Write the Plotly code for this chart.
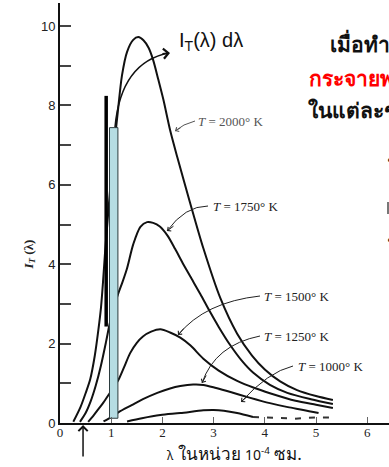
import plotly.graph_objects as go

# Spectral radiance curves I_T(lambda) for five temperatures (lambda in 1e-4 cm)
lam_2000 = [0.26, 0.40, 0.50, 0.59, 0.68, 0.75, 0.80, 0.84, 0.88, 0.93, 0.98, 1.03, 1.08,
            1.13, 1.21, 1.31, 1.43, 1.53, 1.63, 1.73, 1.82, 1.92, 2.02, 2.15, 2.29, 2.54,
            2.80, 3.13, 3.46, 3.75, 4.00, 4.30, 4.63, 5.00, 5.33]
I_2000 = [0.03, 0.40, 0.75, 1.10, 1.70, 2.35, 2.90, 3.55, 4.30, 5.10, 5.90, 6.60, 7.25,
          7.85, 8.75, 9.35, 9.65, 9.72, 9.64, 9.45, 9.14, 8.65, 8.14, 7.38, 6.70, 5.55,
          4.40, 3.15, 2.25, 1.70, 1.35, 1.05, 0.83, 0.68, 0.58]

lam_1750 = [0.39, 0.50, 0.60, 0.70, 0.80, 0.90, 0.97, 1.05, 1.14, 1.22, 1.31, 1.43, 1.57,
            1.70, 1.82, 1.95, 2.10, 2.25, 2.40, 2.54, 2.74, 2.93, 3.10, 3.32, 3.55, 3.77,
            4.10, 4.44, 4.90, 5.33]
I_1750 = [0.03, 0.25, 0.55, 0.95, 1.45, 2.05, 2.50, 2.90, 3.27, 3.55, 3.90, 4.50, 4.94,
          5.06, 5.04, 4.95, 4.72, 4.38, 4.02, 3.70, 3.25, 2.80, 2.42, 1.97, 1.57, 1.27,
          0.96, 0.76, 0.60, 0.48]

lam_1500 = [0.55, 0.65, 0.75, 0.85, 0.97, 1.05, 1.14, 1.25, 1.37, 1.50, 1.62, 1.78, 1.96,
            2.15, 2.35, 2.55, 2.80, 3.10, 3.46, 3.80, 4.10, 4.60, 5.00, 5.33]
I_1500 = [0.03, 0.18, 0.35, 0.52, 0.75, 0.90, 1.08, 1.40, 1.76, 2.02, 2.18, 2.30, 2.36,
          2.28, 2.15, 1.95, 1.62, 1.32, 1.06, 0.88, 0.75, 0.56, 0.46, 0.38]

lam_1250 = [0.85, 1.00, 1.14, 1.40, 1.62, 1.90, 2.15, 2.35, 2.60, 2.80, 3.05, 3.33, 3.70,
            4.10, 4.45, 4.75, 5.05]
I_1250 = [0.04, 0.15, 0.27, 0.45, 0.60, 0.76, 0.87, 0.93, 0.97, 0.96, 0.88, 0.78, 0.64,
          0.50, 0.40, 0.33, 0.25]

lam_1000 = [1.31, 1.60, 1.96, 2.35, 2.80, 3.00, 3.20, 3.46, 3.77]
I_1000 = [0.04, 0.12, 0.20, 0.25, 0.32, 0.33, 0.31, 0.25, 0.15]
# faint broken tail of the 1000 K curve
lam_1000_tail = [3.77, 4.20, 4.60, 5.00, 5.40]
I_1000_tail = [0.15, 0.12, 0.11, 0.14, 0.14]

temps = ["2000", "1750", "1500", "1250", "1000"]

# strip of width d(lambda) under the 2000 K curve, and the marker bar beside it
strip_lambda = [0.967, 1.131]
strip_height = 7.44
strip_base = 0.12
marker_lambda = 0.902
marker_span = [2.43, 8.24]

# pointer below the axis
pointer_lambda = 0.45

y_ticks = [0, 1, 2, 3, 4, 5, 6, 7, 8, 9, 10]
y_ticktext = ["0", "", "2", "", "4", "", "6", "", "8", "", "10"]
x_ticks = [0, 1, 2, 3, 4, 5, 6]

W, H = 389, 467
L, R, T, B = 60, 0, 3, 44
X_RANGE = [0, (W - L - R) / 51.2]
Y_RANGE = [0, (H - T - B) / 39.7]


def d(xp, yp):
    """pixel position -> data coordinates"""
    x = X_RANGE[0] + (xp - L) / (W - L - R) * (X_RANGE[1] - X_RANGE[0])
    y = Y_RANGE[0] + (H - B - yp) / (H - T - B) * (Y_RANGE[1] - Y_RANGE[0])
    return x, y


def p(xp, yp):
    """pixel position -> paper coordinates"""
    return (xp - L) / (W - L - R), (H - B - yp) / (H - T - B)


fig = go.Figure()

curve_line = dict(color="#111111", width=2, shape="spline", smoothing=0.8)
for lam, val in [(lam_2000, I_2000), (lam_1750, I_1750), (lam_1500, I_1500),
                 (lam_1250, I_1250), (lam_1000, I_1000)]:
    fig.add_trace(go.Scatter(x=lam, y=val, mode="lines", line=curve_line,
                             hoverinfo="skip", showlegend=False))
fig.add_trace(go.Scatter(x=lam_1000_tail, y=I_1000_tail, mode="lines",
                         line=dict(color="#333333", width=2, dash="6px,8px"),
                         hoverinfo="skip", showlegend=False))

# marker bar
fig.add_trace(go.Scatter(x=[marker_lambda, marker_lambda], y=marker_span, mode="lines",
                         line=dict(color="#000000", width=3.5),
                         hoverinfo="skip", showlegend=False))
# shaded strip I_T(lambda) d(lambda)
sx = [strip_lambda[0], strip_lambda[0], strip_lambda[1], strip_lambda[1], strip_lambda[0]]
sy = [strip_base, strip_height, strip_height, strip_base, strip_base]
fig.add_trace(go.Scatter(x=sx, y=sy, mode="lines", fill="toself",
                         fillcolor="#b6dde3", line=dict(color="#2b3b3e", width=1),
                         hoverinfo="skip", showlegend=False))

shapes = []
annotations = []


def qpath(p0, c, p1):
    a, b, e = d(*p0), d(*c), d(*p1)
    return f"M{a[0]},{a[1]} Q{b[0]},{b[1]} {e[0]},{e[1]}"


# curved arrow from the strip to its label
shapes.append(dict(type="path", xref="x", yref="y",
                   path=qpath((115, 127), (121, 62), (169, 53)),
                   line=dict(color="#111111", width=1.5)))
ax_, ay_ = d(170, 53)
annotations.append(dict(x=ax_, y=ay_, xref="x", yref="y", ax=-9, ay=1, text="",
                        showarrow=True, arrowhead=4, arrowsize=1.3, arrowwidth=1.5,
                        arrowcolor="#111111"))
lx, ly = d(177, 41)
annotations.append(dict(x=lx, y=ly, xref="x", yref="y", xanchor="left", yanchor="middle",
                        text="I<sub>T</sub>(λ) dλ", showarrow=False,
                        font=dict(family="Liberation Sans, Arial", size=20, color="#111111")))

# temperature labels with curved leaders
label_specs = [
    # text anchor, leader start, control, tip, arrow offset
    ((196, 121), (195, 121), (183, 124), (175, 131), (7, -4)),
    ((211, 206), (208, 206), (185, 206), (167, 231), (8, -6)),
    ((262, 296), (260, 296), (205, 302), (178, 335), (7, -8)),
    ((262, 336), (260, 336), (215, 345), (202, 383), (5, -9)),
    ((296, 366), (293, 366), (268, 372), (241, 402), (8, -7)),
]
label_colors = ["#555555", "#222222", "#222222", "#222222", "#222222"]
for t, (anc, p0, c, tip, off), col in zip(temps, label_specs, label_colors):
    shapes.append(dict(type="path", xref="x", yref="y", path=qpath(p0, c, tip),
                       line=dict(color=col, width=1)))
    tx, ty = d(*tip)
    annotations.append(dict(x=tx, y=ty, xref="x", yref="y", ax=off[0], ay=off[1], text="",
                            showarrow=True, arrowhead=4, arrowsize=1.0, arrowwidth=1,
                            arrowcolor=col))
    x0, y0 = d(*anc)
    annotations.append(dict(x=x0, y=y0, xref="x", yref="y", xanchor="left", yanchor="middle",
                            text=f"<i>T</i> = {t}° K", showarrow=False,
                            font=dict(family="Liberation Serif, Times New Roman", size=13,
                                      color=col)))

# pointer under the axis
annotations.append(dict(x=pointer_lambda, y=0, xref="x", yref="y", ax=0, ay=35, text="",
                        showarrow=True, arrowhead=4, arrowsize=1.2, arrowwidth=1.5,
                        arrowcolor="#111111", standoff=2))

# axis titles (paper coordinates so they may sit outside the plot area)
yt = p(18, 255)
annotations.append(dict(x=yt[0], y=yt[1], xref="paper", yref="paper",
                        text="<b><i>I<sub>T</sub></i> (λ)</b>", textangle=-90, showarrow=False,
                        font=dict(family="Liberation Serif, Times New Roman", size=13,
                                  color="#222222")))
xt = p(166, 466)
annotations.append(dict(x=xt[0], y=xt[1], xref="paper", yref="paper",
                        xanchor="left", yanchor="bottom", borderpad=0,
                        text="<span style='font-size:12px'>λ</span> ในหน่วย "
                             "<span style='font-size:14px'>10<sup>-4</sup></span> ซม.",
                        showarrow=False,
                        font=dict(family="Noto Sans, sans-serif", size=17, color="#111111")))

# side text running off the right edge
side = [
    ((328, 43), "เมื่อทำการวัด", "#111111"),
    ((307, 78), "กระจายพลังงาน", "#ff0000"),
    ((306, 110), "ในแต่ละช่วง", "#111111"),
]
for (xp, yp), s, col in side:
    sx_, sy_ = p(xp, yp)
    annotations.append(dict(x=sx_, y=sy_, xref="paper", yref="paper",
                            xanchor="left", yanchor="middle", text=f"<b>{s}</b>",
                            showarrow=False,
                            font=dict(family="Noto Sans, sans-serif", size=21, color=col)))
for yp in (160, 240):
    bx, by = p(385, yp)
    annotations.append(dict(x=bx, y=by, xref="paper", yref="paper",
                            xanchor="left", yanchor="middle", text="•", showarrow=False,
                            font=dict(family="Noto Sans", size=14, color="#222222")))
mx0, my0 = p(388, 202)
mx1, my1 = p(388, 214)
shapes.append(dict(type="line", xref="paper", yref="paper", x0=mx0, x1=mx1,
                   y0=my0, y1=my1, line=dict(color="#777777", width=2)))

fig.update_layout(
    width=W, height=H,
    margin=dict(l=L, r=R, t=T, b=B, pad=0),
    paper_bgcolor="white", plot_bgcolor="white",
    showlegend=False,
    shapes=shapes, annotations=annotations,
    xaxis=dict(range=X_RANGE, tickvals=x_ticks, ticktext=[str(v) for v in x_ticks],
               ticks="inside", ticklen=6, tickwidth=1, tickcolor="#666666",
               showline=True, linecolor="#111111", linewidth=2, showgrid=False,
               zeroline=False, ticklabelstandoff=-4,
               tickfont=dict(family="Liberation Serif, Times New Roman", size=13,
                             color="#222222")),
    yaxis=dict(range=Y_RANGE, tickvals=y_ticks, ticktext=y_ticktext,
               ticks="inside", ticklen=11, tickwidth=1.5, tickcolor="#444444",
               showline=True, linecolor="#111111", linewidth=2, showgrid=False,
               zeroline=False,
               tickfont=dict(family="Liberation Sans, Arial", size=13, color="#222222")),
)

fig.write_html("out.html")
